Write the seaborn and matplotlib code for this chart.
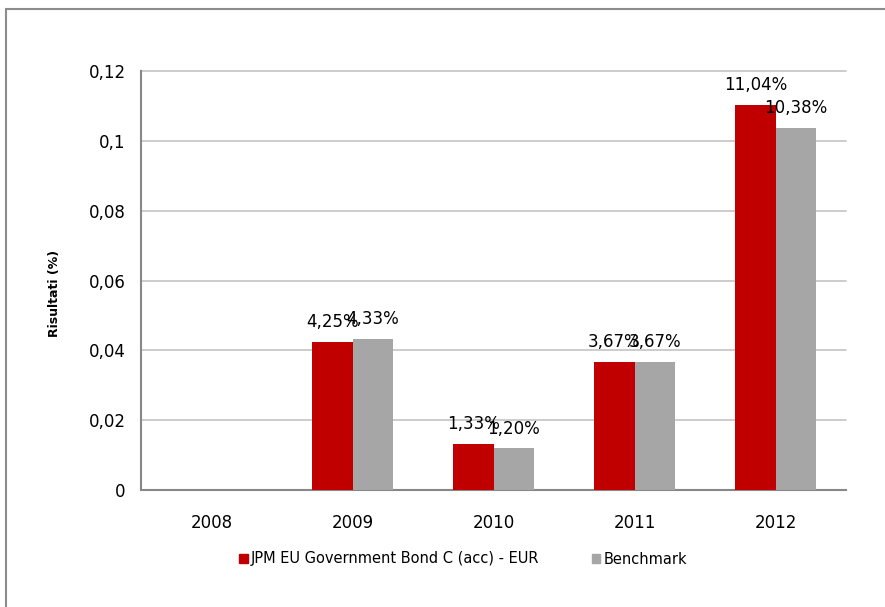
import numpy as np
import pandas as pd
import matplotlib
matplotlib.use("Agg")
import matplotlib.pyplot as plt
import seaborn as sns
from matplotlib.patches import Rectangle
from matplotlib.ticker import FuncFormatter, FixedLocator

years = ["2008", "2009", "2010", "2011", "2012"]
fund_name = "JPM EU Government Bond C (acc) - EUR"
bench_name = "Benchmark"
fund_values = [np.nan, 0.0425, 0.0133, 0.0367, 0.1104]
bench_values = [np.nan, 0.0433, 0.0120, 0.0367, 0.1038]

df = pd.DataFrame({
    "year": years * 2,
    "serie": [fund_name] * len(years) + [bench_name] * len(years),
    "value": fund_values + bench_values,
})

sns.set_style("white")
plt.rcParams["font.family"] = ["DejaVu Sans"]
plt.rcParams["text.color"] = "black"

fig = plt.figure(figsize=(8.85, 6.07), dpi=100)
ax = fig.add_axes([141 / 885, 1 - 490 / 607, (846 - 141) / 885, (490 - 71) / 607])

palette = {fund_name: "#C00000", bench_name: "#A6A6A6"}
sns.barplot(
    data=df.dropna(),
    x="year",
    y="value",
    hue="serie",
    order=years,
    hue_order=[fund_name, bench_name],
    palette=palette,
    width=0.573,
    gap=0,
    saturation=1,
    errorbar=None,
    linewidth=0,
    ax=ax,
    zorder=3,
)

# data labels
n = 2
bw = 0.573 / n
for i, (fv, bv) in enumerate(zip(fund_values, bench_values)):
    for j, v in enumerate([fv, bv]):
        if np.isnan(v):
            continue
        xpos = i - 0.573 / 2 + bw * (j + 0.5)
        ax.annotate(f"{v * 100:.2f}%".replace(".", ","), (xpos, v),
                    xytext=(0, 7.5), textcoords="offset points",
                    ha="center", va="bottom", fontsize=12, color="black", zorder=5)

ax.set_ylim(0, 0.12)
ax.set_xlim(-0.5, len(years) - 0.5)
ax.set_yticks(np.arange(0, 0.121, 0.02))
ax.yaxis.set_major_formatter(FuncFormatter(lambda v, p: f"{v:g}".replace(".", ",")))
ax.yaxis.grid(True, color="#C8C8C8", linewidth=1.3, zorder=0, clip_on=False)
ax.set_axisbelow(True)

ax.xaxis.set_minor_locator(FixedLocator(np.arange(-0.5, len(years), 1.0)))
ax.tick_params(axis="x", which="major", length=0, pad=17, labelsize=12, labelcolor="black")
ax.tick_params(axis="x", which="minor", length=5, width=1.3, color="#878787", direction="out")
ax.tick_params(axis="y", length=5, width=1.3, color="#878787", direction="out",
               labelsize=12, pad=6, labelcolor="black")

for s in ["top", "right"]:
    ax.spines[s].set_visible(False)
for s in ["left", "bottom"]:
    ax.spines[s].set_color("#878787")
    ax.spines[s].set_linewidth(1.5)

ax.set_xlabel("")
ax.set_ylabel("Risultati (%)", fontsize=9, fontweight="bold", color="black")
ax.yaxis.set_label_coords(-0.113, 0.47)

ax.get_legend().remove()
handles = [Rectangle((0, 0), 1, 1, color=palette[fund_name]),
           Rectangle((0, 0), 1, 1, color=palette[bench_name])]
fig.legend(handles, [fund_name, bench_name], loc="center", bbox_to_anchor=(463 / 885, 1 - 559 / 607),
           ncol=2, frameon=False, fontsize=10.5, handlelength=0.6, handleheight=0.6,
           handletextpad=0.2, columnspacing=3.6)

# outer chart border
fig.add_artist(Rectangle((6 / 885, -0.1), 1.2, 1 - 9 / 607 + 0.1, transform=fig.transFigure,
                         fill=False, edgecolor="#8C8C8C", linewidth=1.5, clip_on=False))

fig.savefig("out.png", dpi=100)
